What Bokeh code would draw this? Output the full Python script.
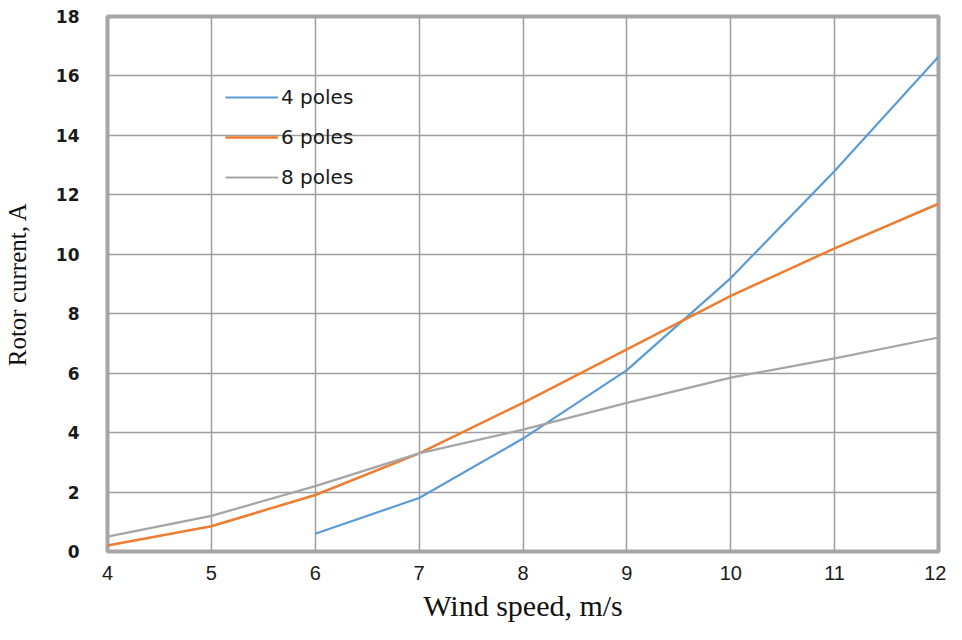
from bokeh.plotting import figure
from bokeh.models import Legend, LegendItem, FixedTicker, Range1d
from bokeh.embed import file_html
from bokeh.resources import INLINE

wind_speed = [4, 5, 6, 7, 8, 9, 10, 11, 12]
poles4_x = [6, 7, 8, 9, 10, 11, 12]
poles4 = [0.6, 1.8, 3.8, 6.1, 9.2, 12.8, 16.65]
poles6 = [0.2, 0.85, 1.9, 3.3, 5.0, 6.8, 8.6, 10.2, 11.7]
poles8 = [0.5, 1.2, 2.2, 3.3, 4.1, 5.0, 5.85, 6.5, 7.2]
x_ticks = [4, 5, 6, 7, 8, 9, 10, 11, 12]
y_ticks = [0, 2, 4, 6, 8, 10, 12, 14, 16, 18]

p = figure(width=946, height=624, output_backend="svg", toolbar_location=None,
           x_range=Range1d(4, 12), y_range=Range1d(0, 18),
           min_border_left=105, min_border_right=8, min_border_top=16, min_border_bottom=70)

p.outline_line_color = "#A6A6A6"
p.outline_line_width = 4

p.xgrid.grid_line_color = "#9E9E9E"
p.ygrid.grid_line_color = "#9E9E9E"
p.xgrid.grid_line_width = 1.5
p.ygrid.grid_line_width = 1.5

p.xaxis.ticker = FixedTicker(ticks=x_ticks)
p.yaxis.ticker = FixedTicker(ticks=y_ticks)
for ax in (p.xaxis[0], p.yaxis[0]):
    ax.axis_line_color = None
    ax.major_tick_line_color = None
    ax.minor_tick_line_color = None
    ax.major_label_text_color = "#1a1a1a"
    ax.axis_label_text_font = "Liberation Serif"
    ax.axis_label_text_font_style = "normal"
    ax.axis_label_text_color = "#111111"

p.xaxis.major_label_text_font = "Liberation Sans"
p.xaxis.major_label_text_font_size = "20px"
p.xaxis.major_label_standoff = 8
p.xaxis.axis_label = "Wind speed, m/s"
p.xaxis.axis_label_text_font_size = "30px"
p.xaxis.axis_label_standoff = 6

p.yaxis.major_label_text_font = "DejaVu Sans"
p.yaxis.major_label_text_font_style = "bold"
p.yaxis.major_label_text_font_size = "17px"
p.yaxis.major_label_standoff = 22
p.yaxis.axis_label = "Rotor current, A"
p.yaxis.axis_label_text_font_size = "25px"
p.yaxis.axis_label_standoff = 22

r4 = p.line(poles4_x, poles4, line_color="#5B9BD5", line_width=2.2)
r6 = p.line(wind_speed, poles6, line_color="#ED7D31", line_width=2.5)
r8 = p.line(wind_speed, poles8, line_color="#A5A5A5", line_width=2.2)

legend = Legend(items=[LegendItem(label="4 poles", renderers=[r4]),
                       LegendItem(label="6 poles", renderers=[r6]),
                       LegendItem(label="8 poles", renderers=[r8])],
                location=(118, 362), orientation="vertical",
                background_fill_alpha=0, border_line_color=None,
                glyph_width=53, glyph_height=20, spacing=16, label_standoff=3,
                label_text_font="DejaVu Sans", label_text_font_size="20px",
                label_text_color="#1a1a1a")
p.add_layout(legend, "center")

open("out.html", "w").write(file_html(p, INLINE))
